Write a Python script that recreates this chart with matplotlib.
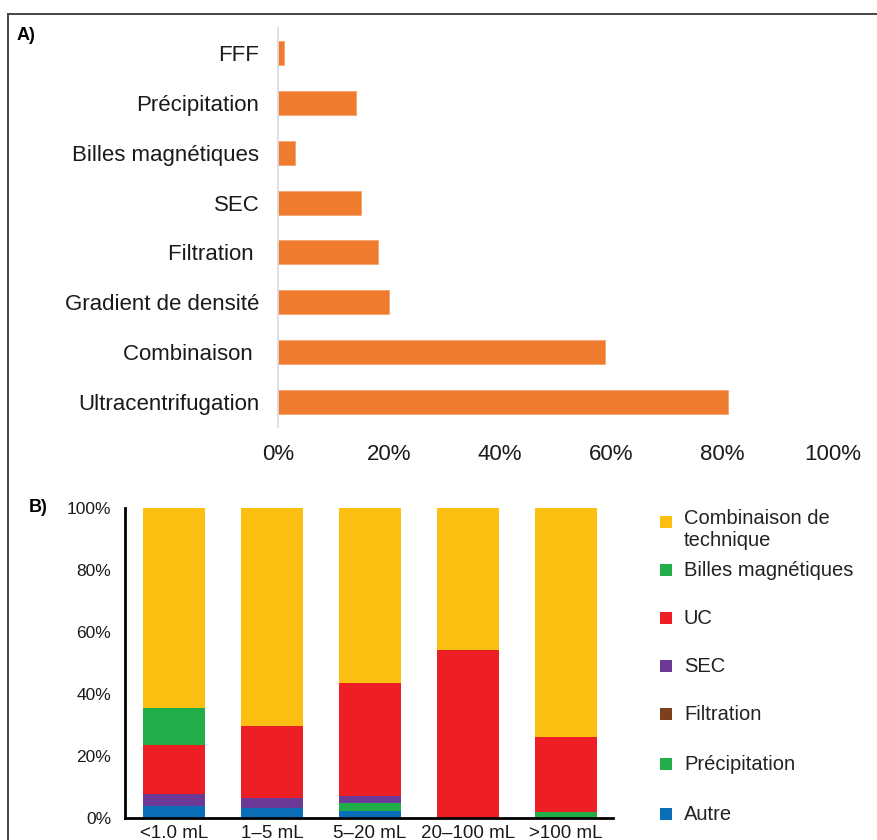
import matplotlib.pyplot as plt
from matplotlib.lines import Line2D
from matplotlib.patches import Rectangle

plt.rcParams['font.family'] = ['Liberation Sans', 'DejaVu Sans']

# Panel A data (percent of studies)
methods = ['Ultracentrifugation', 'Combinaison ', 'Gradient de densité', 'Filtration ',
           'SEC', 'Billes magnétiques', 'Précipitation', 'FFF']
method_pct = [81, 59, 20, 18, 15, 3, 14, 1]
a_ticks = [0, 20, 40, 60, 80, 100]

# Panel B data (stacked percent per volume)
volumes = ['<1.0 mL', '1–5 mL', '5–20 mL', '20–100 mL', '>100 mL']
autre = [4.0, 3.3, 2.4, 0, 0]
precipitation = [0, 0, 2.3, 0, 2.0]
filtration = [0, 0, 0, 0, 0]
sec = [3.8, 3.0, 2.4, 0, 0]
uc = [15.8, 23.5, 36.5, 54.3, 24.0]
billes = [12.0, 0, 0, 0, 0]
combinaison = [64.4, 70.2, 56.4, 45.7, 74.0]
b_ticks = [0, 20, 40, 60, 80, 100]

legend_labels = ['Combinaison de\ntechnique', 'Billes magnétiques', 'UC', 'SEC',
                 'Filtration', 'Précipitation', 'Autre']
legend_colors = ['#FBBF12', '#22AD4B', '#ED1F24', '#6C3A96', '#7E3F1C', '#22AD4B', '#0B6EB8']

fig = plt.figure(figsize=(8.78, 8.40), dpi=100)

# frame (top + left lines)
fig.add_artist(Line2D([8 / 878, 1], [1 - 14 / 840, 1 - 14 / 840], color='#444444', lw=1.4))
fig.add_artist(Line2D([8 / 878, 8 / 878], [0, 1 - 14 / 840], color='#444444', lw=1.4))

# ---- Panel A ----
axA = fig.add_axes([278 / 878, 1 - 427 / 840, 555 / 878, 399 / 840])
axA.barh(range(len(methods)), method_pct, height=0.48, color='#EF7B2E',
         edgecolor='#F5A26C', linewidth=0.6)
axA.set_xlim(0, 100)
axA.set_ylim(-0.5, len(methods) - 0.5)
axA.set_yticks(range(len(methods)))
axA.set_yticklabels(methods, fontsize=16, color='#1a1a1a')
axA.set_xticks(a_ticks)
axA.set_xticklabels([f'{t}%' for t in a_ticks], fontsize=16, color='#1a1a1a')
axA.tick_params(axis='y', length=0, pad=13.5)
axA.tick_params(axis='x', length=0, pad=12)
for s in ['top', 'right', 'bottom']:
    axA.spines[s].set_visible(False)
axA.spines['left'].set_color('#d9d9e3')
axA.spines['left'].set_linewidth(1.2)
fig.text(17 / 878, 1 - 36 / 840, 'A)', fontsize=13, fontweight='bold', ha='left', va='center')

# ---- Panel B ----
axB = fig.add_axes([125 / 878, 1 - 818 / 840, 488 / 878, 310 / 840])
x = range(len(volumes))
bottom = [0] * len(volumes)
stack = [(autre, '#0B6EB8'), (precipitation, '#22AD4B'), (filtration, '#7E3F1C'),
         (sec, '#6C3A96'), (uc, '#ED1F24'), (billes, '#22AD4B'), (combinaison, '#FBBF12')]
for vals, col in stack:
    axB.bar(x, vals, width=0.63, bottom=bottom, color=col, linewidth=0)
    bottom = [b + v for b, v in zip(bottom, vals)]
axB.set_xlim(-0.5, len(volumes) - 0.52)
axB.set_ylim(0, 100)
axB.set_yticks(b_ticks)
axB.set_yticklabels([f'{t}%' for t in b_ticks], fontsize=12.5, color='#1a1a1a')
axB.set_xticks(list(x))
axB.set_xticklabels(volumes, fontsize=13.5, color='#1a1a1a')
axB.tick_params(axis='y', length=0, pad=10)
axB.tick_params(axis='x', length=0, pad=5)
for s in ['top', 'right']:
    axB.spines[s].set_visible(False)
for s in ['left', 'bottom']:
    axB.spines[s].set_color('black')
    axB.spines[s].set_linewidth(2)
fig.text(29 / 878, 1 - 508 / 840, 'B)', fontsize=13, fontweight='bold', ha='left', va='center')

# legend for panel B
leg_y = [522, 570, 618, 666, 714, 764, 814]
for lab, col, yy in zip(legend_labels, legend_colors, leg_y):
    fig.add_artist(Rectangle((660 / 878, 1 - (yy + 6) / 840), 12 / 878, 12 / 840,
                             transform=fig.transFigure, color=col, lw=0))
    if '\n' in lab:
        fig.text(684 / 878, 1 - (yy - 13) / 840, lab, fontsize=14.5, color='#222222',
                 ha='left', va='top', linespacing=1.2)
    else:
        fig.text(684 / 878, 1 - yy / 840, lab, fontsize=14.5, color='#222222',
                 ha='left', va='center')

fig.savefig('out.png', dpi=100)
